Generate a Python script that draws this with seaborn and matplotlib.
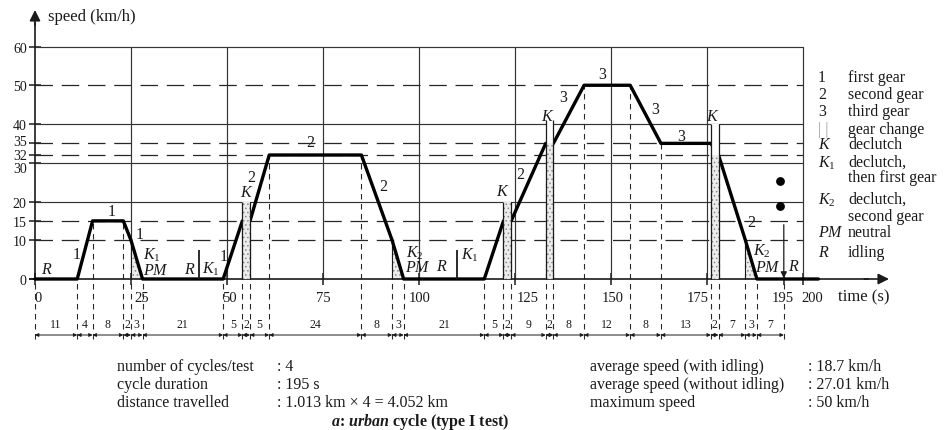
import numpy as np
import pandas as pd
import matplotlib
matplotlib.use("Agg")
import matplotlib.pyplot as plt
import seaborn as sns
from matplotlib.transforms import ScaledTranslation

# ---------------- data ----------------
time_s = [0, 11, 15, 23, 25, 28, 49, 54, 56, 61, 85, 93, 96, 117, 122, 124,
          133, 135, 143, 155, 163, 176, 178, 185, 188, 195, 204]
speed_kmh = [0, 0, 15, 15, 10, 0, 0, 15, 15, 32, 32, 10, 0, 0, 15, 15,
             35, 35, 50, 50, 35, 35, 32, 10, 0, 0, 0]
phase_durations = [11, 4, 8, 2, 3, 21, 5, 2, 5, 24, 8, 3, 21, 5, 2, 9, 2, 8,
                   12, 8, 13, 2, 7, 3, 7]
y_ticks = [0, 10, 15, 20, 30, 32, 35, 40, 50, 60]
y_solid = [20, 30, 40, 60]
y_dashed = [10, 15, 32, 35, 50]
x_ticks = [0, 25, 50, 75, 100, 125, 150, 175, 195, 200]
x_grid = [25, 50, 75, 100, 125, 150, 175, 200]
gear_change_start = [54, 122, 133, 176]
gear_change_top = [20, 20, 41, 40]
gear_change_fill = [20, 20, 35, 32]
declutch_start = [25, 93, 185]
declutch_end = [28, 96, 188]
declutch_speed = [10, 10, 10]
idle_mark_t = [42.7, 109.8]
idle_mark_h = [7.5, 7.5]
blob_t = [194, 194]
blob_v = [25.4, 18.9]

curve_labels = [
    ("$R$", 3.0, 2.6), ("1", 10.9, 6.5), ("1", 20.0, 17.6), ("1", 27.3, 11.6),
    ("$K_1$", 30.4, 6.3), ("$PM$", 31.4, 2.2), ("$R$", 40.4, 2.6),
    ("$K_1$", 45.7, 2.8), ("1", 49.2, 6.0), ("$K$", 55.1, 22.4),
    ("2", 56.4, 26.3), ("2", 71.8, 35.3), ("2", 90.7, 24.1),
    ("$K_2$", 99.0, 7.0), ("$PM$", 99.8, 3.0), ("$R$", 105.9, 3.4),
    ("$K_1$", 113.3, 6.5), ("$K$", 121.9, 22.8), ("2", 126.3, 27.1),
    ("$K$", 133.6, 42.1), ("3", 137.5, 46.9), ("3", 147.6, 52.9),
    ("3", 161.6, 43.9), ("3", 168.4, 37.0), ("$K$", 176.6, 42.1),
    ("2", 186.6, 14.6), ("$K_2$", 189.2, 7.3), ("$PM$", 191.0, 3.0),
    ("$R$", 197.5, 3.4),
]

legend_symbols = ["1", "2", "3", "| |", "$K$", "$K_1$", "", "$K_2$", "", "$PM$", "$R$"]
legend_texts = ["first gear", "second gear", "third gear", "gear change", "declutch",
                "declutch,", "then first gear", "declutch,", "second gear",
                "neutral", "idling"]
legend_rows_px = [78, 95, 112, 130, 145, 163, 178, 200, 217, 233, 253]

info_left = ["number of cycles/test", "cycle duration", "distance travelled"]
info_left_val = [": 4", ": 195 s", ": 1.013 km \u00d7 4 = 4.052 km"]
info_right = ["average speed (with idling)", "average speed (without idling)", "maximum speed"]
info_right_val = [": 18.7 km/h", ": 27.01 km/h", ": 50 km/h"]

# ---------------- style ----------------
sns.set_theme(style="white")
plt.rcParams["font.family"] = ["Liberation Serif", "DejaVu Serif"]
plt.rcParams["mathtext.fontset"] = "custom"
plt.rcParams["mathtext.rm"] = "Liberation Serif"
plt.rcParams["mathtext.it"] = "Liberation Serif:italic"
plt.rcParams["mathtext.bf"] = "Liberation Serif:italic:bold"
plt.rcParams["hatch.color"] = "#8a8a8a"
plt.rcParams["hatch.linewidth"] = 0.6

W, H = 944, 431
fig = plt.figure(figsize=(W / 100, H / 100), dpi=100)
ax = fig.add_axes([0, 0, 1, 1])

X0, SX, Y0, SY = 35.0, 3.84, 280.0, 3.875


def dx(px):
    return (px - X0) / SX


def dy(py):
    return (Y0 - py) / SY


K = "#1a1a1a"

# grid lines
for v in y_solid:
    ax.plot([0, 200], [v, v], color="#333333", lw=0.85, zorder=1)
for v in y_dashed:
    ax.plot([0, 200], [v, v], color="#262626", lw=0.9, ls=(0, (14, 7)), zorder=1)
for t in x_grid:
    ax.plot([t, t], [0, 60], color="#333333", lw=0.85, zorder=1)

# phase boundaries
bounds = np.concatenate([[0], np.cumsum(phase_durations)])
tops = np.interp(bounds, time_s, speed_kmh)
tops[-1] = 0
for b, tp in zip(bounds, tops):
    ax.plot([b, b], [-15.5, tp], color="#2a2a2a", lw=0.8, ls=(0, (5, 4)), zorder=1)

# speed trace
df = pd.DataFrame({"time": time_s, "speed": speed_kmh})
sns.lineplot(data=df, x="time", y="speed", ax=ax, color="black", lw=2.4,
             estimator=None, sort=False, zorder=3)

# declutch triangles
for t0, t1, v in zip(declutch_start, declutch_end, declutch_speed):
    ax.fill([t0, t0, t1], [0, v, 0], facecolor="#ececec", hatch="....",
            edgecolor="#8a8a8a", lw=0, zorder=2)
    ax.plot([t0, t0], [0, v], color=K, lw=0.8, zorder=2.5)

# gear change bands
for t0, top, fl in zip(gear_change_start, gear_change_top, gear_change_fill):
    ax.fill_between([t0, t0 + 2], 0, top, facecolor="white", lw=0, zorder=4)
    ax.fill_between([t0, t0 + 2], 0, fl, facecolor="#ececec", hatch="....",
                    edgecolor="#8a8a8a", lw=0, zorder=4.2)
    ax.vlines([t0, t0 + 2], 0, top, color=K, lw=0.9, zorder=4.5)

# idle markers
ax.vlines(idle_mark_t, 0, idle_mark_h, color=K, lw=1.3, zorder=3)
ax.scatter(blob_t, blob_v, s=40, color="black", zorder=3, linewidths=0)
ax.annotate("", xy=(195, 0.2), xytext=(195, 14),
            arrowprops=dict(arrowstyle="-|>", color=K, lw=0.9,
                            mutation_scale=9, shrinkA=0, shrinkB=0), zorder=3)

# curve labels
for s, x, y in curve_labels:
    ax.text(x, y, s, fontsize=11.5, ha="center", va="center", color=K, zorder=6)

# axes
ax.set_xlim(dx(0), dx(W))
ax.set_ylim(dy(H), dy(0))
ax.set_xlabel("")
ax.set_ylabel("")
ax.spines[["top", "right"]].set_visible(False)
ax.spines["left"].set_position(("data", 0))
ax.spines["bottom"].set_position(("data", 0))
ax.spines["left"].set_bounds(0, 66)
ax.spines["bottom"].set_bounds(dx(30), 217)
for sp in ("left", "bottom"):
    ax.spines[sp].set_color(K)
    ax.spines[sp].set_linewidth(1.2)
ax.annotate("", xy=(0, dy(11)), xytext=(0, 65.5),
            arrowprops=dict(arrowstyle="-|>", color=K, lw=1.2,
                            mutation_scale=16, shrinkA=0, shrinkB=0))
ax.annotate("", xy=(dx(889), 0), xytext=(216, 0),
            arrowprops=dict(arrowstyle="-|>", color=K, lw=1.2,
                            mutation_scale=16, shrinkA=0, shrinkB=0))

ax.set_yticks(y_ticks)
ax.set_yticklabels([str(v) for v in y_ticks])
ax.set_xticks(x_ticks)
ax.set_xticklabels([str(v) for v in x_ticks])
ax.tick_params(axis="y", direction="inout", length=9, width=1.1, pad=1.5,
               labelsize=10, colors=K, left=True)
ax.tick_params(axis="x", direction="inout", length=8, width=1.1, pad=5,
               labelsize=10.5, colors=K, bottom=True)
x_label_shift_px = [3.5, 11, 2, 0, 1, 12.5, 1.5, -9, -1, 9.5]
for lab, sh in zip(ax.get_xticklabels(), x_label_shift_px):
    lab.set_transform(lab.get_transform() + ScaledTranslation(sh / 100, 0, fig.dpi_scale_trans))
y_label_shift_px = [0, 0, 0, 0, -4.5, 1.5, 3, 0, 0, 0]
for lab, sh in zip(ax.get_yticklabels(), y_label_shift_px):
    lab.set_transform(lab.get_transform() + ScaledTranslation(0, sh / 100, fig.dpi_scale_trans))

ax.text(dx(48), dy(17), "speed (km/h)", fontsize=12, ha="left", va="center", color=K)
ax.text(dx(838), dy(297), "time (s)", fontsize=12, ha="left", va="center", color=K)

# phase durations row
for b0, b1, d in zip(bounds[:-1], bounds[1:], phase_durations):
    ax.annotate("", xy=(b0, dy(336)), xytext=(b1, dy(336)),
                arrowprops=dict(arrowstyle="<|-|>", color=K, lw=0.7,
                                mutation_scale=5, shrinkA=0, shrinkB=0))
    ax.text((b0 + b1) / 2, dy(325), str(d), fontsize=8.5, ha="center",
            va="center", color=K)

# legend
for sym, txt, py in zip(legend_symbols, legend_texts, legend_rows_px):
    col = "#9a9a9a" if sym == "| |" else K
    ax.text(dx(818), dy(py), sym, fontsize=11.5, ha="left", va="center", color=col)
    ax.text(dx(848), dy(py), txt, fontsize=11.5, ha="left", va="center", color=K)

# info block
rows_py = [367, 385, 403]
for lab, val, r_lab, r_val, py in zip(info_left, info_left_val, info_right, info_right_val, rows_py):
    fig.text(117 / W, 1 - py / H, lab, fontsize=11.5, ha="left", va="center", color=K)
    fig.text(277 / W, 1 - py / H, val, fontsize=11.5, ha="left", va="center", color=K)
    fig.text(590 / W, 1 - py / H, r_lab, fontsize=11.5, ha="left", va="center", color=K)
    fig.text(808 / W, 1 - py / H, r_val, fontsize=11.5, ha="left", va="center", color=K)

fig.text(420 / W, 1 - 422 / H, r"$\mathbf{a}$: $\mathbf{urban}$ cycle (type I test)",
         fontsize=11.5, fontweight="bold", ha="center", va="center", color=K)

fig.savefig("out.png", dpi=100, facecolor="white")
